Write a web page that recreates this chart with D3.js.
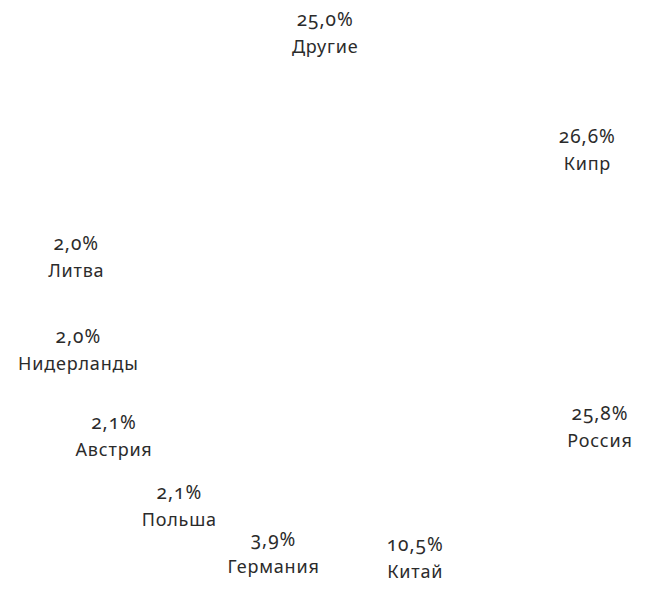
<!DOCTYPE html>
<html>
<head>
<meta charset="utf-8">
<script src="https://cdn.jsdelivr.net/npm/d3@7"></script>
<style>
  html, body { margin: 0; padding: 0; background: #fff; }
  svg text { font-family: "Noto Sans", sans-serif; font-feature-settings: "onum" 1; fill: #2b2b2b; }
</style>
</head>
<body>
<svg id="chart" width="665" height="596"></svg>
<script>
// Data (share of total, %)
const categories = ["Другие", "Кипр", "Россия", "Китай", "Германия", "Польша", "Австрия", "Нидерланды", "Литва"];
const values = [25.0, 26.6, 25.8, 10.5, 3.9, 2.1, 2.1, 2.0, 2.0];

const width = 665, height = 596;
const cx = 354, cy = 297, rx = 281, ry = 266;
const deg = Math.PI / 180;

const svg = d3.select("#chart");

const data = categories.map((c, i) => ({ name: c, value: values[i] }));

const pie = d3.pie()
  .sort(null)
  .value(d => d.value)
  .startAngle(-36.2 * deg)
  .endAngle(288.8 * deg)
  .padAngle(16.5 * deg);

const arcs = pie(data);

// slices are drawn white (invisible on the white background)
const arc = d3.arc().innerRadius(0).outerRadius(200);
svg.append("g")
  .attr("transform", `translate(${cx},${cy})`)
  .selectAll("path")
  .data(arcs)
  .join("path")
  .attr("d", arc)
  .attr("fill", "#ffffff");

const fmt = v => d3.format(".1f")(v).replace(".", ",") + "%";

const labels = svg.append("g").selectAll("g")
  .data(arcs)
  .join("g")
  .attr("transform", d => {
    const a = (d.startAngle + d.endAngle) / 2;
    const x = cx + rx * Math.sin(a);
    const y = cy - ry * Math.cos(a);
    return `translate(${x},${y})`;
  });

labels.append("text")
  .attr("text-anchor", "middle")
  .attr("y", -6)
  .style("font-size", "19px")
  .style("letter-spacing", "1px")
  .text(d => fmt(d.data.value));

labels.append("text")
  .attr("text-anchor", "middle")
  .attr("y", 21)
  .style("font-size", "18px")
  .style("letter-spacing", "0.8px")
  .text(d => d.data.name);
</script>
</body>
</html>
